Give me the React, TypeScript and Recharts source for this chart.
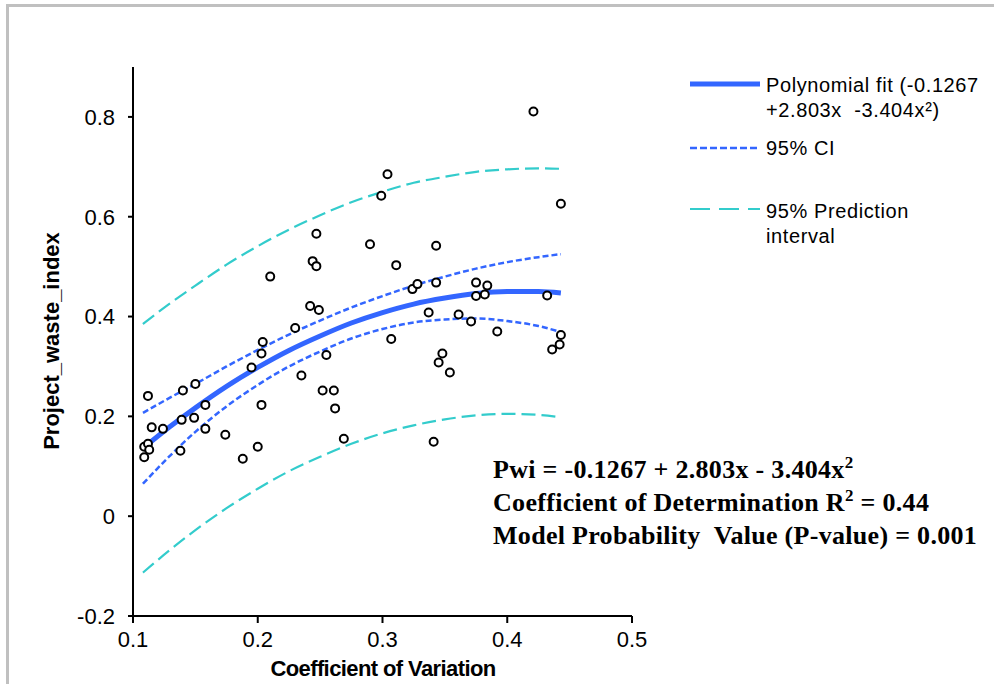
import React from 'react';
import { ComposedChart, Line, Scatter, XAxis, YAxis } from 'recharts';

// observed points: coefficient of variation vs project waste index
const cvValues = [
  0.109, 0.109, 0.112, 0.113, 0.112, 0.115, 0.124, 0.138, 0.139, 0.14,
  0.149, 0.15, 0.158, 0.158, 0.174, 0.188, 0.195, 0.2, 0.203, 0.203,
  0.204, 0.21, 0.23, 0.235, 0.242, 0.244, 0.247, 0.247, 0.249, 0.252,
  0.255, 0.261, 0.262, 0.269, 0.29, 0.299, 0.304, 0.307, 0.311, 0.324,
  0.328, 0.337, 0.341, 0.343, 0.343, 0.345, 0.348, 0.354, 0.361, 0.371,
  0.375, 0.375, 0.382, 0.384, 0.392, 0.421, 0.432, 0.436, 0.442, 0.443,
  0.443,
];
const pwiValues = [
  0.118, 0.139, 0.145, 0.133, 0.241, 0.178, 0.175, 0.131, 0.193, 0.252,
  0.197, 0.265, 0.223, 0.175, 0.163, 0.115, 0.298, 0.139, 0.223, 0.326,
  0.349, 0.48, 0.377, 0.282, 0.421, 0.511, 0.501, 0.566, 0.413, 0.252,
  0.323, 0.252, 0.216, 0.155, 0.545, 0.642, 0.685, 0.355, 0.503, 0.455,
  0.465, 0.408, 0.149, 0.542, 0.468, 0.308, 0.326, 0.288, 0.404, 0.39,
  0.468, 0.441, 0.444, 0.462, 0.37, 0.811, 0.442, 0.334, 0.344, 0.363,
  0.626,
];

// curves
const curveX = [0.108, 0.13, 0.15, 0.175, 0.2, 0.225, 0.25, 0.275, 0.3, 0.325, 0.35, 0.375, 0.4, 0.425, 0.443];
const fitY = [0.136, 0.18, 0.217, 0.26, 0.298, 0.332, 0.361, 0.387, 0.408, 0.425, 0.437, 0.446, 0.45, 0.45, 0.447];
const ciUpper = [0.207, 0.238, 0.265, 0.3, 0.333, 0.364, 0.392, 0.418, 0.441, 0.462, 0.48, 0.496, 0.509, 0.519, 0.525];
const ciLower = [0.065, 0.122, 0.169, 0.22, 0.263, 0.3, 0.33, 0.356, 0.375, 0.388, 0.394, 0.396, 0.391, 0.381, 0.369];
const piUpper = [0.385, 0.427, 0.462, 0.504, 0.541, 0.574, 0.603, 0.629, 0.65, 0.668, 0.68, 0.69, 0.695, 0.697, 0.696];
const piLower = [-0.113, -0.067, -0.028, 0.016, 0.055, 0.09, 0.119, 0.145, 0.166, 0.182, 0.194, 0.202, 0.205, 0.203, 0.198];

const xTicks = [0.1, 0.2, 0.3, 0.4, 0.5];
const yTicks = [-0.2, 0, 0.2, 0.4, 0.6, 0.8];

const FIT = '#3366ff';
const PI = '#33cccc';

const points = cvValues.map((x, i) => ({ x, y: pwiValues[i] }));
const curves = curveX.map((x, i) => ({
  x,
  fit: fitY[i],
  ciU: ciUpper[i],
  ciL: ciLower[i],
  piU: piUpper[i],
  piL: piLower[i],
}));

const sans = '"Liberation Sans", Arial, sans-serif';
const serif = '"Liberation Serif", "Times New Roman", serif';

const fmt = (v: number) => (v === 0 ? '0' : String(Number(v.toFixed(1))));

export default function App() {
  return (
    <div style={{ position: 'absolute', left: 0, top: 0, width: 994, height: 684, background: '#fff', fontFamily: sans }}>
      <div
        style={{
          position: 'absolute',
          left: 6,
          top: 4,
          width: 988,
          height: 680,
          borderLeft: '3px solid #c0c0c0',
          borderTop: '3px solid #c0c0c0',
          boxSizing: 'border-box',
        }}
      />
      <ComposedChart
        width={994}
        height={684}
        data={curves}
        margin={{ top: 67, right: 362, bottom: 28, left: 73 }}
        style={{ position: 'absolute', left: 0, top: 0 }}
      >
        <XAxis
          type="number"
          dataKey="x"
          domain={[0.1, 0.5]}
          ticks={xTicks}
          tickFormatter={fmt}
          height={40}
          tickSize={7}
          tickMargin={8}
          axisLine={{ stroke: '#000', strokeWidth: 2 }}
          tickLine={{ stroke: '#000', strokeWidth: 2 }}
          tick={{ fill: '#000', fontSize: 22, fontFamily: sans }}
          allowDataOverflow
        />
        <YAxis
          type="number"
          domain={[-0.2, 0.9]}
          ticks={yTicks}
          tickFormatter={fmt}
          width={60}
          tickSize={5}
          tickMargin={13}
          axisLine={{ stroke: '#000', strokeWidth: 2 }}
          tickLine={{ stroke: '#000', strokeWidth: 2 }}
          tick={{ fill: '#000', fontSize: 22, fontFamily: sans }}
          allowDataOverflow
        />
        <Line dataKey="piU" type="monotone" stroke={PI} strokeWidth={2.2} strokeDasharray="14 6" dot={false} isAnimationActive={false} />
        <Line dataKey="piL" type="monotone" stroke={PI} strokeWidth={2.2} strokeDasharray="14 6" dot={false} isAnimationActive={false} />
        <Line dataKey="ciU" type="monotone" stroke={FIT} strokeWidth={2.5} strokeDasharray="6 3" dot={false} isAnimationActive={false} />
        <Line dataKey="ciL" type="monotone" stroke={FIT} strokeWidth={2.5} strokeDasharray="6 3" dot={false} isAnimationActive={false} />
        <Line dataKey="fit" type="monotone" stroke={FIT} strokeWidth={5} dot={false} isAnimationActive={false} />
        <Scatter
          data={points}
          dataKey="y"
          isAnimationActive={false}
          shape={(p: any) => <circle cx={p.cx} cy={p.cy} r={4} fill="#fff" stroke="#000" strokeWidth={2} />}
        />
      </ComposedChart>

      <svg width={994} height={684} style={{ position: 'absolute', left: 0, top: 0, pointerEvents: 'none' }}>
        {/* axis titles */}
        <text transform="translate(59,341) rotate(-90)" textAnchor="middle" fontFamily={sans} fontWeight="bold" fontSize={22} fill="#000">
          Project_waste_index
        </text>
        <text x={383} y={676} textAnchor="middle" fontFamily={sans} fontWeight="bold" fontSize={22} letterSpacing={-0.6} fill="#000">
          Coefficient of Variation
        </text>

        {/* legend */}
        <line x1={690} y1={84} x2={760} y2={84} stroke={FIT} strokeWidth={5} />
        <line x1={690} y1={148} x2={760} y2={148} stroke={FIT} strokeWidth={2.5} strokeDasharray="7 3" />
        <line x1={690} y1={209} x2={760} y2={209} stroke={PI} strokeWidth={2} strokeDasharray="20 9" />
        <g fontFamily={sans} fontSize={20} fill="#000" letterSpacing={0.6}>
          <text x={766} y={92}>Polynomial fit (-0.1267</text>
          <text x={766} y={117} xmlSpace="preserve">+2.803x  -3.404x²)</text>
          <text x={766} y={155}>95% CI</text>
          <text x={766} y={218}>95% Prediction</text>
          <text x={766} y={243}>interval</text>
        </g>

        {/* model annotation */}
        <g fontFamily={serif} fontWeight="bold" fontSize={26} fill="#000" letterSpacing={0.3}>
          <text x={493} y={478}>
            Pwi = -0.1267 + 2.803x - 3.404x<tspan dy={-10} fontSize={17}>2</tspan>
          </text>
          <text x={493} y={511}>
            Coefficient of Determination R<tspan dy={-10} fontSize={17}>2</tspan>
            <tspan dy={10}> = 0.44</tspan>
          </text>
          <text x={493} y={544} xmlSpace="preserve">
            Model Probability  Value (P-value) = 0.001
          </text>
        </g>
      </svg>
    </div>
  );
}
